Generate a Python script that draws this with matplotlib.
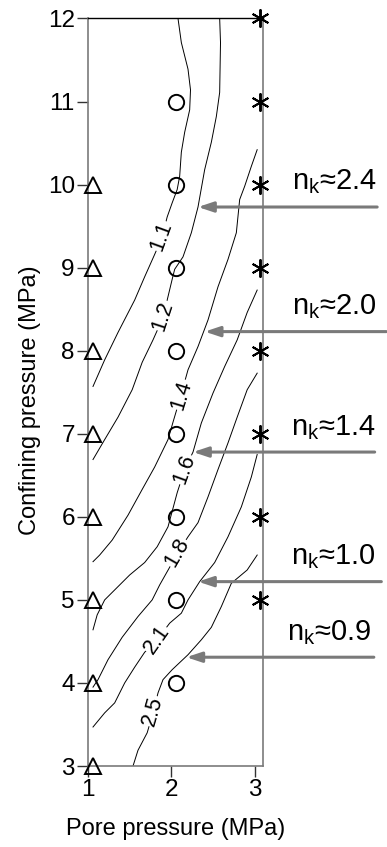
import numpy as np
import matplotlib
matplotlib.use("Agg")
import matplotlib.pyplot as plt

plt.rcParams["font.family"] = ["Liberation Sans", "DejaVu Sans"]

# ---------------------------------------------------------
# DATA
# ---------------------------------------------------------
# test points: pore pressure -> list of confining pressures
triangle_pore = 1
triangle_conf = [3, 4, 5, 6, 7, 8, 9, 10]
circle_pore = 2
circle_conf = [4, 5, 6, 7, 8, 9, 10, 11]
star_pore = 3
star_conf = [5, 6, 7, 8, 9, 10, 11, 12]

# contour lines of n_k (pore pressure, confining pressure)
c11_x = [2.08, 2.12, 2.20, 2.23, 2.22, 2.16, 2.12, 2.10, 2.07, 2.01, 1.95, 1.89,
         1.80, 1.68, 1.56, 1.36, 1.20, 1.06]
c11_y = [12.0, 11.71, 11.39, 11.14, 10.90, 10.63, 10.39, 10.10, 9.94, 9.78, 9.61,
         9.37, 9.16, 8.89, 8.61, 8.22, 7.89, 7.57]
c12_x = [2.58, 2.59, 2.58, 2.54, 2.48, 2.40, 2.32, 2.24, 2.14, 2.04, 2.01, 1.90,
         1.78, 1.65, 1.53, 1.36, 1.20, 1.06]
c12_y = [12.0, 11.71, 11.11, 10.82, 10.51, 10.18, 9.73, 9.42, 9.13, 8.98, 8.86,
         8.40, 8.13, 7.86, 7.53, 7.20, 6.93, 6.69]
c14_x = [3.03, 2.96, 2.88, 2.82, 2.78, 2.68, 2.56, 2.44, 2.32, 2.20, 2.10, 2.02,
         1.96, 1.80, 1.65, 1.48, 1.29, 1.14, 1.06]
c14_y = [10.42, 10.22, 9.98, 9.82, 9.42, 9.10, 8.77, 8.37, 8.05, 7.77, 7.41, 7.14,
         6.93, 6.60, 6.33, 6.02, 5.72, 5.54, 5.46]
c16_x = [3.03, 2.91, 2.79, 2.64, 2.50, 2.36, 2.26, 2.16, 2.07, 1.96, 1.83, 1.68,
         1.50, 1.38, 1.20, 1.11, 1.06]
c16_y = [8.73, 8.46, 8.13, 7.81, 7.49, 7.13, 6.78, 6.57, 6.29, 5.88, 5.64, 5.45,
         5.30, 5.18, 5.00, 4.82, 4.64]
c18_x = [3.03, 2.91, 2.79, 2.68, 2.56, 2.44, 2.32, 2.20, 2.08, 1.95, 1.86, 1.77,
         1.60, 1.41, 1.24, 1.12, 1.06]
c18_y = [7.73, 7.53, 7.20, 6.89, 6.57, 6.24, 5.93, 5.76, 5.57, 5.34, 5.18, 5.00,
         4.80, 4.55, 4.28, 4.04, 3.95]
c21_x = [3.03, 2.96, 2.84, 2.68, 2.52, 2.34, 2.20, 2.12, 1.98, 1.83, 1.68, 1.56,
         1.44, 1.32, 1.20, 1.06]
c21_y = [6.75, 6.48, 6.12, 5.76, 5.45, 5.22, 5.00, 4.84, 4.72, 4.52, 4.37, 4.19,
         4.00, 3.76, 3.64, 3.47]
c25_x = [3.03, 2.91, 2.72, 2.60, 2.48, 2.36, 2.20, 2.01, 1.90, 1.84, 1.78, 1.71,
         1.60, 1.54]
c25_y = [5.54, 5.36, 5.20, 4.92, 4.67, 4.52, 4.34, 4.16, 4.04, 3.88, 3.64, 3.40,
         3.19, 3.00]

contour_levels = ["1.1", "1.2", "1.4", "1.6", "1.8", "2.1", "2.5"]
contour_x = [c11_x, c12_x, c14_x, c16_x, c18_x, c21_x, c25_x]
contour_y = [c11_y, c12_y, c14_y, c16_y, c18_y, c21_y, c25_y]

# n_k annotations: value, where the arrow points
nk_values = ["2.4", "2.0", "1.4", "1.0", "0.9"]
nk_pore = [2.32, 2.40, 2.26, 2.32, 2.18]
nk_conf = [9.73, 8.23, 6.78, 5.22, 4.31]

# ---------------------------------------------------------
# PLACEMENT / STYLE
# ---------------------------------------------------------
label_pos = [(1.88, 9.38), (1.90, 8.42), (2.12, 7.47), (2.16, 6.57),
             (2.07, 5.57), (1.83, 4.52), (1.78, 3.66)]
label_rot = [70, 72, 73, 70, 60, 55, 74]
arrow_tail = [4.47, 4.58, 4.44, 4.52, 4.43]
text_right = [4.47, 4.46, 4.45, 4.45, 4.40]
marker_shift = 0.06
GRAY = "#7a7a7a"

fig = plt.figure(figsize=(3.87, 8.47), dpi=100)
ax = fig.add_axes([0.2274, 0.0956, 0.4522, 0.8826])

for xs, ys in zip(contour_x, contour_y):
    ax.plot(xs, ys, color="black", linewidth=0.7, zorder=2)

for lab, (lx, ly), rot in zip(contour_levels, label_pos, label_rot):
    ax.text(lx, ly, lab, fontsize=15.5, rotation=rot, ha="center", va="center",
            rotation_mode="anchor", zorder=3,
            bbox=dict(facecolor="white", edgecolor="none", pad=0.5))

ax.plot([triangle_pore + marker_shift] * len(triangle_conf), triangle_conf,
        linestyle="none", marker="^", markersize=11.5, markerfacecolor="none",
        markeredgecolor="black", markeredgewidth=1.4, clip_on=False, zorder=4)
ax.plot([circle_pore + marker_shift] * len(circle_conf), circle_conf,
        linestyle="none", marker="o", markersize=11, markerfacecolor="none",
        markeredgecolor="black", markeredgewidth=1.4, clip_on=False, zorder=4)
ax.plot([star_pore + marker_shift] * len(star_conf), star_conf,
        linestyle="none", marker=(6, 2, 0), markersize=13,
        markeredgecolor="black", markeredgewidth=1.4, clip_on=False, zorder=4)

for val, px, py, tail, tr in zip(nk_values, nk_pore, nk_conf, arrow_tail, text_right):
    ax.annotate("", xy=(px, py), xytext=(tail, py), annotation_clip=False,
                arrowprops=dict(arrowstyle="-|>,head_length=0.9,head_width=0.3",
                                color=GRAY, linewidth=2.2, shrinkA=0, shrinkB=0))
    ax.text(tr, py + 0.30, r"n$_{\mathregular{k}}$≈" + val, fontsize=21,
            ha="right", va="center", clip_on=False)

ax.set_xlim(1, 3.1)
ax.set_ylim(3, 12)
ax.set_xticks([1, 2, 3])
ax.set_yticks(np.arange(3, 13))
ax.tick_params(direction="out", length=8, width=1, color="#333333",
               labelsize=17.5, pad=1.5)

for side in ["left", "right", "bottom"]:
    ax.spines[side].set_color(GRAY)
    ax.spines[side].set_linewidth(1.2)
ax.spines["top"].set_color("black")
ax.spines["top"].set_linewidth(1.0)

ax.set_xlabel("Pore pressure (MPa)", fontsize=17)
ax.set_ylabel("Confining pressure (MPa)", fontsize=17)
ax.xaxis.set_label_coords(0.5, -0.07)
ax.yaxis.set_label_coords(-0.27, 0.49)

fig.savefig("out.png", dpi=100)
